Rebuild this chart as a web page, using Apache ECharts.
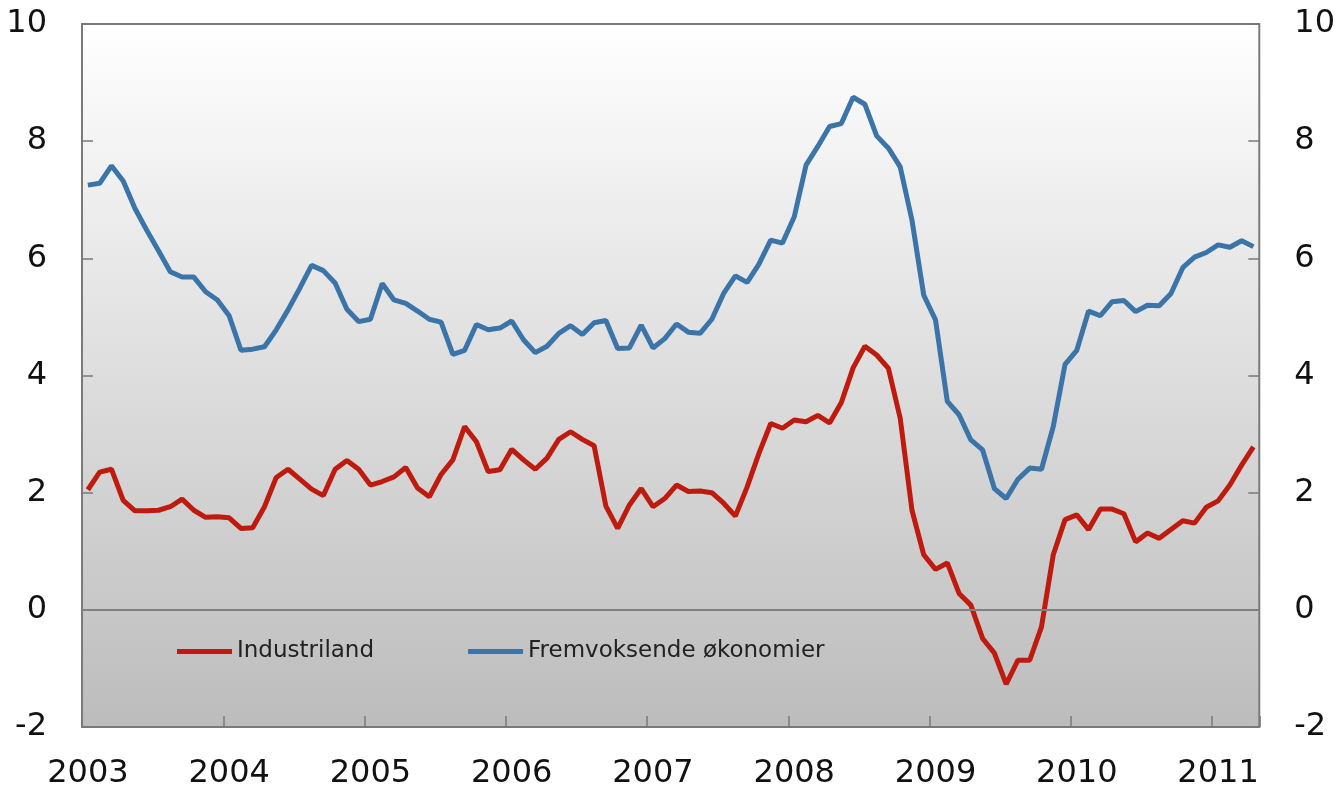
<!DOCTYPE html>
<html>
<head>
<meta charset="utf-8">
<script src="https://cdn.jsdelivr.net/npm/echarts@6/dist/echarts.min.js"></script>
<style>
  html, body { margin: 0; padding: 0; background: #fff; }
  #myChart { width: 1338px; height: 795px; }
</style>
</head>
<body>
<div id="myChart"></div>
<script>
  // monthly, Jan 2003 - Apr 2011
  const years = [2003, 2004, 2005, 2006, 2007, 2008, 2009, 2010, 2011]
  const monthsInLastYear = 4
  const yTicks = [-2, 0, 2, 4, 6, 8, 10]

  const industriland = [
    2.05, 2.35, 2.40, 1.87, 1.69, 1.69, 1.70, 1.76, 1.89, 1.70, 1.58, 1.59,
    1.57, 1.39, 1.40, 1.76, 2.26, 2.40, 2.23, 2.06, 1.95, 2.40, 2.55, 2.40,
    2.13, 2.19, 2.27, 2.43, 2.08, 1.93, 2.31, 2.56, 3.13, 2.87, 2.36, 2.39,
    2.74, 2.56, 2.40, 2.59, 2.91, 3.04, 2.91, 2.80, 1.77, 1.39, 1.79, 2.07,
    1.76, 1.90, 2.13, 2.02, 2.03, 2.00, 1.82, 1.60, 2.10, 2.67, 3.18, 3.10,
    3.24, 3.21, 3.32, 3.19, 3.54, 4.13, 4.50, 4.35, 4.12, 3.27, 1.70, 0.94,
    0.69, 0.80, 0.28, 0.08, -0.49, -0.74, -1.27, -0.86, -0.86, -0.29, 0.94, 1.54,
    1.62, 1.37, 1.72, 1.72, 1.64, 1.16, 1.31, 1.22, 1.37, 1.52, 1.48, 1.75,
    1.86, 2.13, 2.47, 2.78
  ]

  const fremvoksende = [
    7.25, 7.28, 7.58, 7.32, 6.85, 6.48, 6.13, 5.77, 5.68, 5.68, 5.43, 5.29,
    5.02, 4.43, 4.45, 4.49, 4.78, 5.12, 5.49, 5.88, 5.79, 5.58, 5.13, 4.92,
    4.96, 5.57, 5.29, 5.23, 5.10, 4.96, 4.91, 4.36, 4.43, 4.87, 4.78, 4.81,
    4.93, 4.61, 4.39, 4.50, 4.72, 4.85, 4.70, 4.90, 4.94, 4.46, 4.47, 4.86,
    4.47, 4.63, 4.88, 4.74, 4.72, 4.96, 5.40, 5.70, 5.59, 5.90, 6.31, 6.26,
    6.71, 7.59, 7.91, 8.25, 8.30, 8.75, 8.63, 8.09, 7.88, 7.56, 6.65, 5.37,
    4.95, 3.56, 3.33, 2.90, 2.73, 2.07, 1.90, 2.23, 2.42, 2.40, 3.13, 4.19,
    4.43, 5.10, 5.02, 5.26, 5.28, 5.09, 5.20, 5.19, 5.40, 5.84, 6.02, 6.10,
    6.23, 6.19, 6.30, 6.20
  ]

  const months = []
  years.forEach(function (y, k) {
    const n = k === years.length - 1 ? monthsInLastYear : 12
    for (let m = 1; m <= n; m++) {
      months.push(y + '-' + (m < 10 ? '0' + m : m))
    }
  })

  const fontFamily = 'DejaVu Sans'
  const axisGrey = '#7a7a7a'

  function yAxisOpt(position) {
    return {
      type: 'value',
      position: position,
      min: yTicks[0],
      max: yTicks[yTicks.length - 1],
      interval: 2,
      axisLine: { show: false },
      axisTick: { show: true, inside: true, length: 11, lineStyle: { color: axisGrey, width: 1.5 } },
      splitLine: { show: false },
      axisLabel: { margin: 35, fontFamily: fontFamily, fontSize: 32, color: '#111' }
    }
  }

  let myChart = echarts.init(document.getElementById('myChart'))
  myChart.setOption({
    animation: false,
    grid: {
      left: 82,
      right: 74,
      top: 24,
      bottom: 68,
      show: true,
      borderColor: axisGrey,
      borderWidth: 2,
      backgroundColor: new echarts.graphic.LinearGradient(0, 0, 0, 1, [
        { offset: 0, color: '#ffffff' },
        { offset: 1, color: '#bcbcbc' }
      ])
    },
    legend: {
      left: 177,
      top: 640,
      padding: 0,
      icon: 'rect',
      itemWidth: 55,
      itemHeight: 5,
      itemGap: 94,
      textStyle: { fontFamily: fontFamily, fontSize: 23, color: '#222' },
      data: ['Industriland', 'Fremvoksende økonomier']
    },
    xAxis: {
      type: 'category',
      data: months,
      boundaryGap: true,
      axisLine: { show: false, onZero: false },
      axisTick: {
        show: true,
        inside: true,
        length: 11,
        interval: function (index) { return index % 12 === 0 },
        lineStyle: { color: axisGrey, width: 1.5 }
      },
      axisLabel: {
        interval: function (index) { return index % 12 === 0 },
        formatter: function (v) { return v.slice(0, 4) },
        margin: 31,
        fontFamily: fontFamily,
        fontSize: 32,
        color: '#111'
      },
      splitLine: { show: false }
    },
    yAxis: [yAxisOpt('left'), yAxisOpt('right')],
    series: [
      {
        name: 'Industriland',
        type: 'line',
        data: industriland,
        symbol: 'none',
        color: '#be1a0e',
        lineStyle: { width: 5, color: '#be1a0e' },
        z: 3,
        markLine: {
          silent: true,
          symbol: 'none',
          label: { show: false },
          lineStyle: { color: '#808080', width: 2, type: 'solid' },
          data: [{ yAxis: 0 }]
        }
      },
      {
        name: 'Fremvoksende økonomier',
        type: 'line',
        data: fremvoksende,
        symbol: 'none',
        color: '#3a74a8',
        lineStyle: { width: 5, color: '#3a74a8' },
        z: 3
      }
    ]
  })
</script>
</body>
</html>
